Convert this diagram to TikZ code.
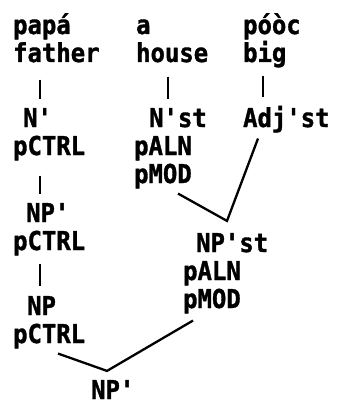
\documentclass[tikz,border=0pt]{standalone}
\usepackage{fontspec}
\newfontfamily\glossfont{DejaVu Sans Mono}[FakeStretch=0.92, BoldFeatures={FakeBold=1.3}]
\begin{document}
\begin{tikzpicture}[x=1pt, y=-1pt, line width=2.3pt,
  font=\glossfont\bfseries\fontsize{26}{28}\selectfont,
  word/.style={anchor=base west, inner sep=0pt, align=left},
  cat/.style={anchor=base west, inner sep=0pt, align=left}]
  \useasboundingbox (0,0) rectangle (337,409);
  % words
  \node[word] (papa) at (12,62) {papá\\father};
  \node[word] (casa) at (135,62) {a\\house};
  \node[word] (pooc) at (242,62) {póòc\\big};
  % categories
  \node[cat] (nbar) at (12,155) {\hspace*{10pt}N'\\pCTRL};
  \node[cat] (npbar) at (12,250) {\hspace*{13pt}NP'\\pCTRL};
  \node[cat] (np) at (12,343) {\hspace*{14pt}NP\\pCTRL};
  \node[cat] (nst) at (133,183) {\hspace*{15pt}N'st\\pALN\\pMOD};
  \node[cat] (adj) at (242,127) {Adj'st};
  \node[cat] (npst) at (182,308) {\hspace*{13pt}NP'st\\pALN\\pMOD};
  \node[cat] (root) at (90,399) {NP'};
  % branches
  \draw ([xshift=28pt,yshift=-16pt]papa.south west) -- ([xshift=28pt,yshift=8pt]nbar.north west);
  \draw ([xshift=28pt,yshift=-14pt]nbar.south west) -- ([xshift=28pt,yshift=8pt]npbar.north west);
  \draw ([xshift=28pt,yshift=-7pt]npbar.south west) -- ([xshift=28pt,yshift=9pt]np.north west);
  \draw ([xshift=33pt,yshift=-13pt]casa.south west) -- ([xshift=35pt,yshift=8pt]nst.north west);
  \draw ([xshift=21pt,yshift=-7pt]pooc.south west) -- ([xshift=21pt,yshift=8pt]adj.north west);
  \draw ([xshift=45pt,yshift=-4pt]nst.south west) -- ([xshift=45pt,yshift=11pt]npst.north west)
    -- ([xshift=16pt,yshift=-5pt]adj.south west);
  \draw ([xshift=46pt,yshift=-4pt]np.south west) -- ([xshift=17pt,yshift=8pt]root.north west)
    -- ([xshift=11pt,yshift=-6pt]npst.south west);
\end{tikzpicture}
\end{document}
